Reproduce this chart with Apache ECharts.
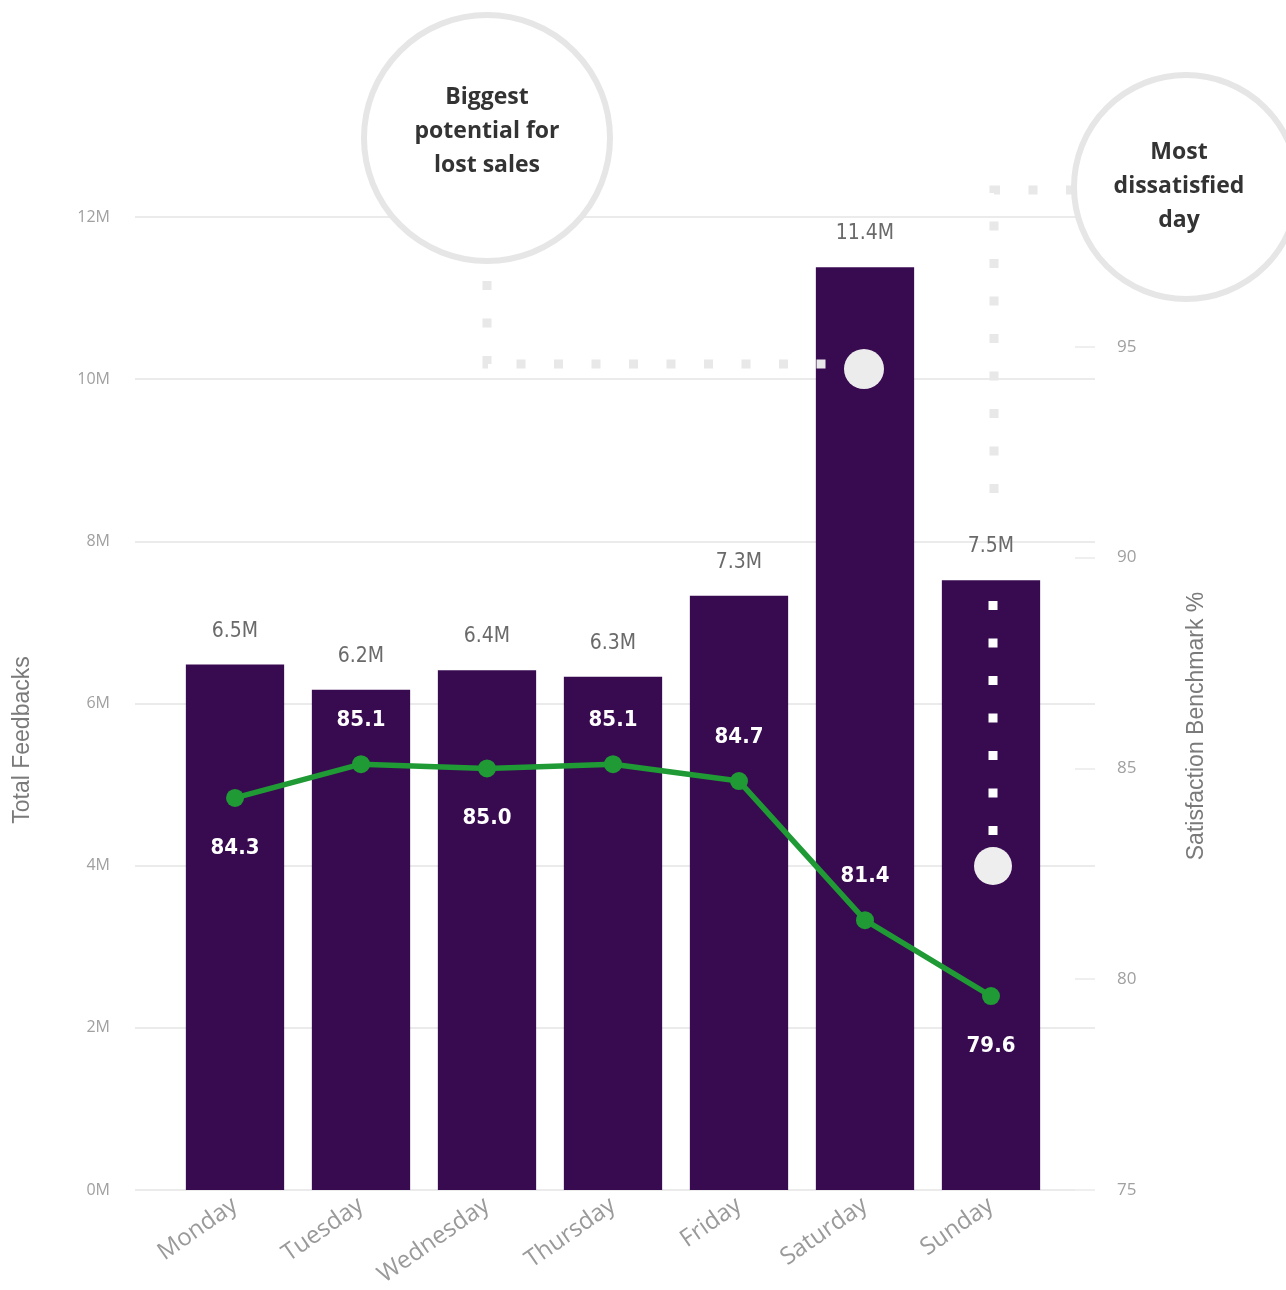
<!DOCTYPE html>
<html><head><meta charset="utf-8">
<script src="https://cdn.jsdelivr.net/npm/echarts@6/dist/echarts.min.js"></script>
<style>html,body{margin:0;padding:0;background:#fff}#c{width:1286px;height:1290px}</style>
</head><body><div id="c"></div>
<script>
var days = ['Monday','Tuesday','Wednesday','Thursday','Friday','Saturday','Sunday'];
var feedbacksM = [6.48, 6.17, 6.41, 6.33, 7.33, 11.38, 7.52];
var satisfaction = [84.3, 85.1, 85.0, 85.1, 84.7, 81.4, 79.6];
var leftTicks = [0, 2, 4, 6, 8, 10, 12];
var rightTicks = [75, 80, 85, 90, 95];
var leftTitle = 'Total Feedbacks';
var rightTitle = 'Satisfaction Benchmark %';

var labelSide = ['bottom','top','bottom','top','top','top','bottom'];
var DIN = "'DejaVu Sans Condensed','Liberation Sans Narrow',sans-serif";
var UI = "'Open Sans','Noto Sans',sans-serif";
var GRID_TOP = 217, GRID_BOTTOM = 100;
var RMAX = 98.08;

var chart = echarts.init(document.getElementById('c'), null, {renderer:'canvas'});

function dots(points, color, size, gap){
  return {type:'polyline', z:100, shape:{points:points},
    style:{stroke:color, lineWidth:size, lineDash:[size, gap], lineCap:'butt', fill:null}};
}

var option = {
  backgroundColor:'#fff',
  animation:false,
  grid:[
    {left:172, right:232, top:GRID_TOP, bottom:GRID_BOTTOM},
    {left:135, right:191, top:GRID_TOP, bottom:GRID_BOTTOM}
  ],
  xAxis:[
    {type:'category', gridIndex:0, data:days,
     axisLine:{show:false}, axisTick:{show:false},
     axisLabel:{rotate:35, margin:13, color:'#9a9a9a', fontSize:24, fontFamily:UI}},
    {type:'value', gridIndex:1, min:0, max:1, show:false}
  ],
  yAxis:[
    {type:'value', gridIndex:0, min:leftTicks[0], max:leftTicks[leftTicks.length-1], interval:2, show:false},
    {type:'value', gridIndex:0, min:rightTicks[0], max:RMAX, interval:5, show:false},
    {type:'value', gridIndex:1, min:leftTicks[0], max:leftTicks[leftTicks.length-1], interval:2, position:'left',
     axisLine:{show:false}, axisTick:{show:false},
     axisLabel:{margin:25, color:'#a0a0a0', fontSize:16, fontFamily:UI,
       formatter:function(v){return v+'M';}},
     splitLine:{show:true, lineStyle:{color:'#ebebeb', width:2}}},
    {type:'value', gridIndex:1, min:rightTicks[0], max:RMAX, interval:5, position:'right',
     axisLine:{show:false},
     axisTick:{show:true, inside:true, length:20, lineStyle:{color:'#efefef', width:2}},
     axisLabel:{margin:22, color:'#a0a0a0', fontSize:17, fontFamily:UI,
       showMaxLabel:false,
       formatter:function(v){return rightTicks.indexOf(v) >= 0 ? String(v) : '';}},
     splitLine:{show:false}}
  ],
  series:[
    {type:'bar', xAxisIndex:0, yAxisIndex:0, data:feedbacksM, barCategoryGap:'22%',
     itemStyle:{color:'#380a50'},
     label:{show:true, position:'top', distance:23, color:'#6a6a6a', fontSize:21, fontFamily:DIN,
       formatter:function(p){return p.value.toFixed(1)+'M';}}},
    {type:'line', xAxisIndex:0, yAxisIndex:1, z:5,
     data:satisfaction.map(function(v,i){
       var side = labelSide[i];
       return {value:v, label:{position:side, distance: side === 'top' ? 24 : 30}};
     }),
     lineStyle:{color:'#1f9a35', width:5.5},
     itemStyle:{color:'#1f9a35'},
     symbol:'circle', symbolSize:18,
     label:{show:true, color:'#ffffff', fontSize:22, fontWeight:'bold', fontFamily:DIN,
       formatter:function(p){return p.value.toFixed(1);}}}
  ],
  graphic:[
    {type:'text', z:50, x:23, y:740, rotation:Math.PI/2,
     style:{text:leftTitle, align:'center', verticalAlign:'middle', fill:'#7a7a7a', font:"23px 'Liberation Sans',Arial,sans-serif"}},
    {type:'text', z:50, x:1197, y:726, rotation:Math.PI/2,
     style:{text:rightTitle, align:'center', verticalAlign:'middle', fill:'#7a7a7a', font:"23px 'Liberation Sans',Arial,sans-serif"}},
    dots([[487,281],[487,364],[830,364]], '#e8e8e8', 9, 28.5),
    {type:'circle', z:100, shape:{cx:864, cy:369, r:20}, style:{fill:'#ececec'}},
    dots([[1075,190],[994,190],[994,505]], '#e8e8e8', 9, 28.5),
    dots([[993,601],[993,835]], '#ffffff', 9, 28.5),
    {type:'circle', z:100, shape:{cx:993, cy:866, r:19}, style:{fill:'#eeeeee'}},
    {type:'circle', z:101, shape:{cx:487, cy:138, r:123}, style:{fill:'#fff', stroke:'#e6e6e6', lineWidth:6}},
    {type:'text', z:102, style:{x:487, y:131, text:'Biggest\npotential for\nlost sales', align:'center', verticalAlign:'middle',
      fill:'#333', font:"bold 23px 'Open Sans','Noto Sans',sans-serif", lineHeight:34}},
    {type:'circle', z:101, shape:{cx:1186, cy:187, r:112}, style:{fill:'#fff', stroke:'#e6e6e6', lineWidth:6}},
    {type:'text', z:102, style:{x:1179, y:186, text:'Most\ndissatisfied\nday', align:'center', verticalAlign:'middle',
      fill:'#333', font:"bold 23px 'Open Sans','Noto Sans',sans-serif", lineHeight:34}}
  ]
};
chart.setOption(option);
</script>
</body></html>
